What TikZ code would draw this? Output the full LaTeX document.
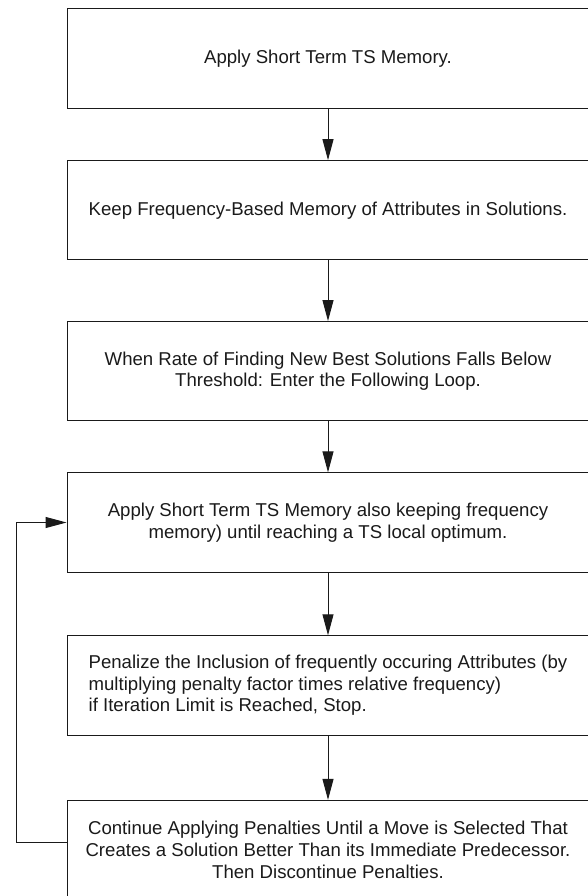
\documentclass[tikz,border=0pt]{standalone}
\usepackage{fontspec}
\setmainfont{Liberation Sans}
\usetikzlibrary{arrows.meta}
\definecolor{ink}{HTML}{1A1A1A}
\begin{document}
\begin{tikzpicture}[x=1pt,y=-1pt,
  stepbox/.style={draw=ink, line width=1pt, minimum width=522pt, minimum height=99.3pt,
    inner sep=0pt, align=center, text=ink,
    font=\fontsize{18.6}{21.7}\selectfont},
  flow/.style={draw=ink, line width=1pt, -{Triangle[length=21pt,width=11pt]}}]
\useasboundingbox (0,0) rectangle (588,896);
\node[stepbox] (b1) at (328,58.5) {Apply Short Term TS Memory.};
\node[stepbox] (b2) at (328,210.3) {Keep Frequency-Based Memory of Attributes in Solutions.};
\node[stepbox] (b3) at (328,371.2) {When Rate of Finding New Best Solutions Falls Below\\Threshold: Enter the Following Loop.};
\node[stepbox] (b4) at (328,522.5) {Apply Short Term TS Memory also keeping frequency\\memory) until reaching a TS local optimum.};
\node[stepbox, align=left] (b5) at (328,685.4) {Penalize the Inclusion of frequently occuring Attributes (by\\multiplying penalty factor times relative frequency)\\if Iteration Limit is Reached, Stop.};
\node[stepbox] (b6) at (328,850) {Continue Applying Penalties Until a Move is Selected That\\Creates a Solution Better Than its Immediate Predecessor.\\Then Discontinue Penalties.};
\draw[flow] (b1) -- (b2);
\draw[flow] (b2) -- (b3);
\draw[flow] (b3) -- (b4);
\draw[flow] (b4) -- (b5);
\draw[flow] (b5) -- (b6);
\coordinate (lp) at (16,842.3);
\draw[flow] (b6.west |- lp) -- (lp) -- (lp |- b4.west) -- (b4.west);
\end{tikzpicture}
\end{document}
